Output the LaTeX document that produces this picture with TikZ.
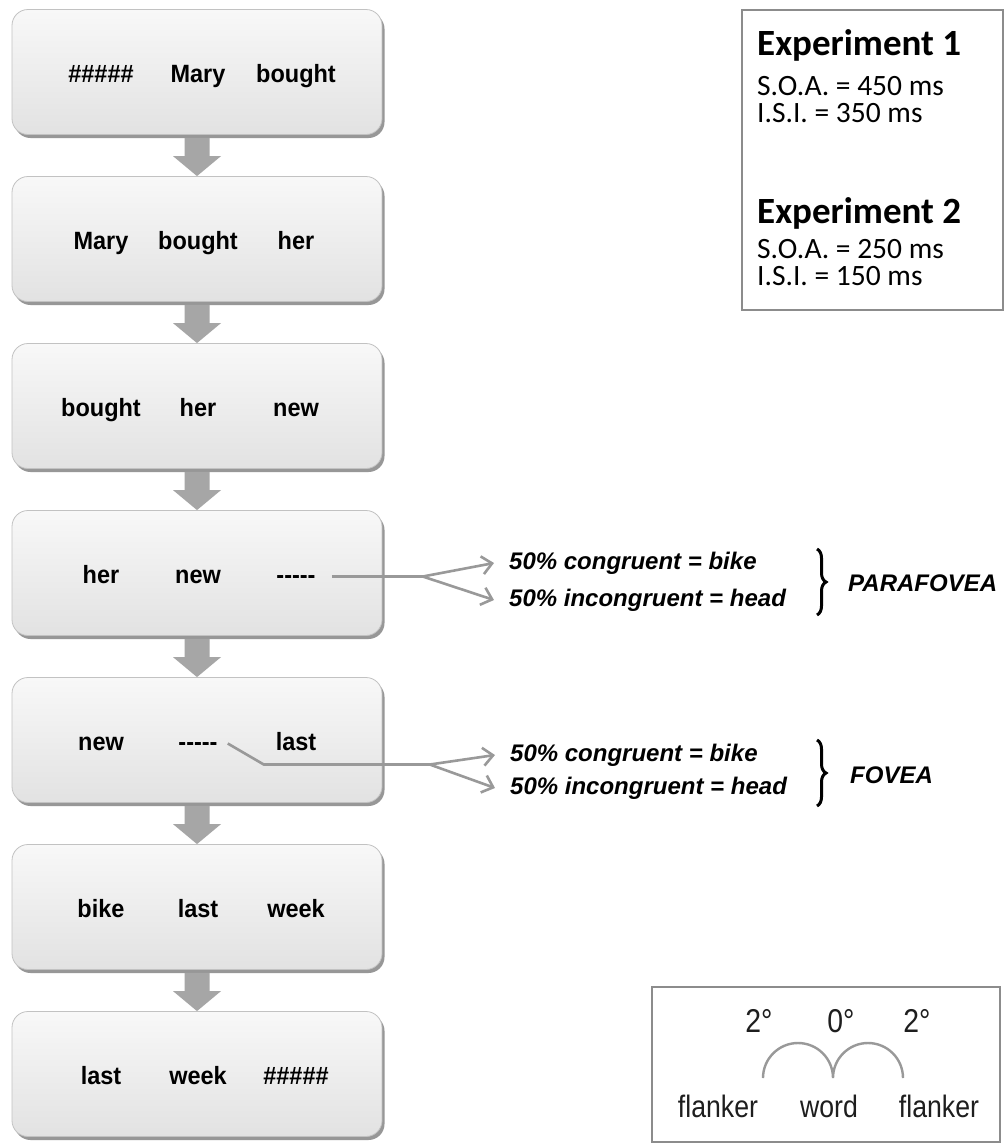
\documentclass[tikz,border=0pt]{standalone}
\usepackage{fontspec}
\setmainfont{Liberation Sans}
\newfontfamily\calibri{Carlito}
\newfontfamily\boxfont[FakeStretch=0.94]{Liberation Sans}
\newfontfamily\narrowsans[FakeStretch=0.86]{Liberation Sans}
\usetikzlibrary{calc,arrows.meta,decorations.pathreplacing,shadows}

\definecolor{boxtop}{HTML}{F8F8F8}
\definecolor{boxbot}{HTML}{E2E2E2}
\definecolor{boxedge}{HTML}{C2C2C2}
\definecolor{boxshade}{HTML}{979797}
\definecolor{flow}{HTML}{A6A6A6}
\definecolor{linkgray}{HTML}{999999}
\definecolor{framegray}{HTML}{8C8C8C}
\definecolor{inkgray}{HTML}{1E1E1E}

\newcommand\hashrun{\#\#\#\#\#}
\newcommand\dashrun{-{}-{}-{}-{}-}

\begin{document}
\begin{tikzpicture}[x=1pt,y=-1pt,
  stepbox/.style={rectangle, rounded corners=16pt, minimum width=370pt,
    minimum height=125pt, inner sep=0pt, top color=boxtop, bottom color=boxbot,
    draw=boxedge, line width=0.8pt,
    drop shadow={shadow xshift=2.5pt, shadow yshift=-3.5pt, fill=boxshade, opacity=1}},
  word/.style={font=\boxfont\bfseries\fontsize{25}{30}\selectfont, inner sep=0pt,
    text height=18pt, text depth=5pt, anchor=base},
  note/.style={font=\bfseries\itshape\fontsize{24}{28}\selectfont, inner sep=0pt, anchor=west},
  flowarrow/.style={fill=flow},
  link/.style={draw=linkgray, line width=2.6pt},
  linktip/.style={link, -{Straight Barb[length=10pt,width=18pt]}},
  curly/.style={decorate, decoration={brace, amplitude=9pt}, line width=3pt},
  infoframe/.style={draw=framegray, line width=1.2pt, inner sep=0pt},
  exphead/.style={font=\calibri\bfseries\fontsize{37}{42}\selectfont, inner sep=0pt, anchor=base west},
  expline/.style={font=\calibri\fontsize{29.5}{34}\selectfont, inner sep=0pt, anchor=base west},
  deg/.style={font=\narrowsans\fontsize{33}{38}\selectfont, text=inkgray, inner sep=0pt, anchor=base},
  ecc/.style={font=\narrowsans\fontsize{31}{36}\selectfont, text=inkgray, inner sep=0pt, anchor=base},
  arcline/.style={draw=linkgray, line width=2.4pt}
]
\useasboundingbox (0,0) rectangle (1005,1144);
\fill[white] (0,0) rectangle (1005,1144);

% the seven successive three-word displays
\foreach \i/\y/\p/\q/\r in {
  1/72/\hashrun/Mary/bought,
  2/239/Mary/bought/her,
  3/406/bought/her/new,
  4/573/her/new/\dashrun,
  5/740/new/\dashrun/last,
  6/907/bike/last/week,
  7/1074/last/week/\hashrun}
{
  \node[stepbox] (b\i) at (197,\y) {};
  \node[word] (w\i a) at (101,\y+10) {\p};
  \node[word] (w\i b) at (198,\y+10) {\q};
  \node[word] (w\i c) at (296,\y+10) {\r};
}

% block arrows from one display to the next
\foreach \i [count=\j from 2] in {1,...,6}
  \fill[flowarrow] ($(b\i.south)+(-12.5,3)$) -- ($(b\j.north)+(-12.5,-20)$)
    -- ($(b\j.north)+(-24,-20)$) -- (b\j.north) -- ($(b\j.north)+(24,-20)$)
    -- ($(b\j.north)+(12.5,-20)$) -- ($(b\i.south)+(12.5,3)$) -- cycle;

% parafoveal target
\node[note] (c4) at (509,563) {50\% congruent = bike};
\node[note] (i4) at (509,600) {50\% incongruent = head};
\draw[link] ([xshift=16pt]w4c.east) -- ++(91,0) coordinate (pfork);
\draw[linktip] (pfork) -- ([xshift=-15pt]c4.west);
\draw[linktip] (pfork) -- ([xshift=-15pt]i4.west);
\coordinate (pbt) at (817,549);
\coordinate (pbb) at (817,615);
\draw[curly] (pbt) -- (pbb);
\node[note] (para) at (848,583) {PARAFOVEA};

% foveal target
\node[note] (c5) at (510,755) {50\% congruent = bike};
\node[note] (i5) at (510,788) {50\% incongruent = head};
\draw[link] ([xshift=10pt]w5b.east) -- ++(36,21) -- ++(166,0) coordinate (ffork);
\draw[linktip] (ffork) -- ([xshift=-15pt]c5.west);
\draw[linktip] (ffork) -- ([xshift=-15pt]i5.west);
\coordinate (fbt) at (817,740);
\coordinate (fbb) at (817,806);
\draw[curly] (fbt) -- (fbb);
\node[note] (fov) at (850,775) {FOVEA};

% timing parameters
\node[infoframe, minimum width=261pt, minimum height=300pt] (expbox) at (872.5,160) {};
\node[exphead] (e1) at (757,55) {Experiment 1};
\node[expline] (s1) at (757,95) {S.O.A. = 450 ms};
\node[expline] (t1) at (757,122) {I.S.I. = 350 ms};
\node[exphead] (e2) at (757,223) {Experiment 2};
\node[expline] (s2) at (757,258) {S.O.A. = 250 ms};
\node[expline] (t2) at (757,285) {I.S.I. = 150 ms};

% visual angle of word and flankers
\node[infoframe, minimum width=348pt, minimum height=155pt] (eccbox) at (826,1064.5) {};
\node[deg] (d1) at (759,1032) {2°};
\node[deg] (d0) at (841,1032) {0°};
\node[deg] (d2) at (917,1032) {2°};
\coordinate (arcstart) at (763,1078);
\draw[arcline] (arcstart) arc[start angle=180, end angle=0, radius=35pt]
  arc[start angle=180, end angle=0, radius=35pt];
\node[ecc] (fl1) at (718,1117) {flanker};
\node[ecc] (wd) at (829,1117) {word};
\node[ecc] (fl2) at (939,1117) {flanker};
\end{tikzpicture}
\end{document}
